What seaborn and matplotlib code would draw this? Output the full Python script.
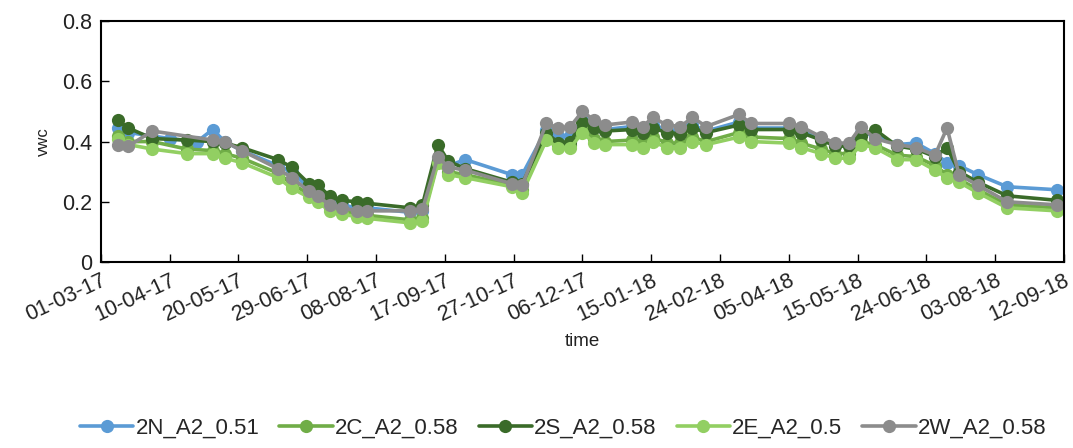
import numpy as np
import pandas as pd
import matplotlib
matplotlib.use("Agg")
import matplotlib.pyplot as plt
import matplotlib.dates as mdates
import seaborn as sns

nan = np.nan

dates = pd.to_datetime([
    "2017-03-11", "2017-03-17", "2017-03-31", "2017-04-10", "2017-04-20", "2017-04-26",
    "2017-05-05", "2017-05-12", "2017-05-22", "2017-06-12", "2017-06-20", "2017-06-30",
    "2017-07-05", "2017-07-12", "2017-07-19", "2017-07-28", "2017-08-03", "2017-08-28",
    "2017-09-04", "2017-09-13", "2017-09-19", "2017-09-29", "2017-10-26", "2017-11-01",
    "2017-11-15", "2017-11-22", "2017-11-29", "2017-12-06", "2017-12-13", "2017-12-19",
    "2018-01-04", "2018-01-10", "2018-01-16", "2018-01-24", "2018-02-01", "2018-02-08",
    "2018-02-16", "2018-03-07", "2018-03-14", "2018-04-05", "2018-04-12", "2018-04-24",
    "2018-05-02", "2018-05-10", "2018-05-17", "2018-05-25", "2018-06-07", "2018-06-18",
    "2018-06-29", "2018-07-06", "2018-07-13", "2018-07-24", "2018-08-10", "2018-09-08",
])

s_2N = [0.445, 0.43, nan, 0.41, nan, 0.40, 0.44, 0.40, 0.37, 0.32, 0.30, 0.245,
        0.235, 0.20, 0.19, 0.18, 0.18, 0.165, 0.17, 0.34, 0.32, 0.34, 0.29, 0.29,
        0.44, 0.42, 0.42, 0.47, 0.45, 0.44, 0.45, 0.44, 0.455, 0.44, 0.435, 0.455,
        0.435, 0.465, 0.445, 0.445, 0.435, 0.41, 0.39, 0.39, 0.43, 0.42, 0.39, 0.395,
        0.36, 0.33, 0.32, 0.29, 0.25, 0.24]
s_2C = [0.42, 0.40, 0.40, nan, 0.375, nan, 0.37, 0.36, 0.345, 0.295, 0.26, 0.225,
        0.21, 0.18, 0.17, 0.16, 0.155, 0.14, 0.145, 0.335, 0.30, 0.29, 0.255, 0.24,
        0.41, 0.39, 0.39, 0.44, 0.41, 0.40, 0.405, 0.395, 0.415, 0.395, 0.395, 0.415,
        0.40, 0.43, 0.415, 0.41, 0.395, 0.375, 0.36, 0.36, 0.40, 0.39, 0.355, 0.35,
        0.32, 0.29, 0.275, 0.24, 0.19, 0.18]
s_2S = [0.47, 0.445, 0.41, nan, 0.405, nan, 0.40, 0.395, 0.38, 0.34, 0.315, 0.26,
        0.255, 0.22, 0.205, 0.20, 0.195, 0.18, 0.19, 0.39, 0.335, 0.31, 0.265, 0.26,
        0.43, 0.395, 0.40, 0.465, 0.445, 0.435, 0.44, 0.43, 0.445, 0.43, 0.425, 0.445,
        0.43, 0.455, 0.44, 0.44, 0.43, 0.405, 0.385, 0.385, 0.42, 0.44, 0.385, 0.375,
        0.35, 0.38, 0.30, 0.265, 0.22, 0.205]
s_2E = [0.41, 0.39, 0.375, nan, 0.36, nan, 0.36, 0.345, 0.33, 0.28, 0.245, 0.215,
        0.20, 0.17, 0.16, 0.15, 0.145, 0.13, 0.135, 0.33, 0.29, 0.28, 0.25, 0.23,
        0.405, 0.38, 0.38, 0.43, 0.395, 0.39, 0.39, 0.38, 0.40, 0.38, 0.38, 0.40,
        0.39, 0.415, 0.40, 0.395, 0.38, 0.36, 0.345, 0.345, 0.39, 0.38, 0.34, 0.34,
        0.305, 0.28, 0.265, 0.23, 0.18, 0.17]
s_2W = [0.39, 0.385, 0.435, nan, nan, nan, 0.405, 0.40, 0.37, 0.31, 0.28, 0.235,
        0.22, 0.19, 0.18, 0.17, 0.17, 0.17, 0.175, 0.35, 0.315, 0.305, 0.26, 0.255,
        0.46, 0.445, 0.45, 0.50, 0.47, 0.455, 0.465, 0.45, 0.48, 0.455, 0.45, 0.48,
        0.45, 0.49, 0.46, 0.46, 0.45, 0.415, 0.395, 0.395, 0.45, 0.41, 0.39, 0.38,
        0.355, 0.445, 0.29, 0.255, 0.20, 0.19]

series_names = ["2N_A2_0.51", "2C_A2_0.58", "2S_A2_0.58", "2E_A2_0.5", "2W_A2_0.58"]
series_values = [s_2N, s_2C, s_2S, s_2E, s_2W]
colors = ["#5B9BD5", "#70AD47", "#3A6B29", "#92CF62", "#8C8C8C"]

tick_dates = pd.date_range("2017-03-01", periods=15, freq="40D")

sns.set_theme(style="white")
plt.rcParams["font.family"] = ["Liberation Sans", "DejaVu Sans"]

fig = plt.figure(figsize=(10.73, 4.48), dpi=100)
ax = fig.add_axes([0.094, 0.415, 0.8976, 0.538])

for name, vals, c in zip(series_names, series_values, colors):
    df = pd.DataFrame({"time": dates, "vwc": vals})
    sns.lineplot(data=df, x="time", y="vwc", ax=ax, color=c, label=name,
                 marker="o", markersize=9.5, linewidth=2.6, markeredgewidth=0,
                 markeredgecolor=c)

ax.set_ylim(0, 0.8)
ax.set_yticks([0, 0.2, 0.4, 0.6, 0.8])
ax.set_yticklabels(["0", "0.2", "0.4", "0.6", "0.8"])
ax.set_xlim(tick_dates[0], tick_dates[-1])
ax.set_xticks(tick_dates)
ax.xaxis.set_major_formatter(mdates.DateFormatter("%d-%m-%y"))

ax.tick_params(axis="both", direction="in", length=6, width=1, colors="black",
               labelsize=15.5, labelcolor="#222222", left=True, bottom=True, pad=6)
for lab in ax.get_xticklabels():
    lab.set_rotation(25)
    lab.set_ha("right")
    lab.set_rotation_mode("anchor")
for sp in ax.spines.values():
    sp.set_color("black")
    sp.set_linewidth(1.5)
    sp.set_visible(True)

ax.set_xlabel("time", fontsize=13.5, labelpad=5, color="#222222")
ax.set_ylabel("vwc", fontsize=12, labelpad=8, color="#222222")

ax.legend().remove()
handles, labels = ax.get_legend_handles_labels()
fig.legend(handles, labels, loc="center", bbox_to_anchor=(0.525, 0.045), ncol=5,
           frameon=False, fontsize=16, handlelength=2.4, handletextpad=0.1,
           columnspacing=0.9)

fig.savefig("out.png", dpi=100)
